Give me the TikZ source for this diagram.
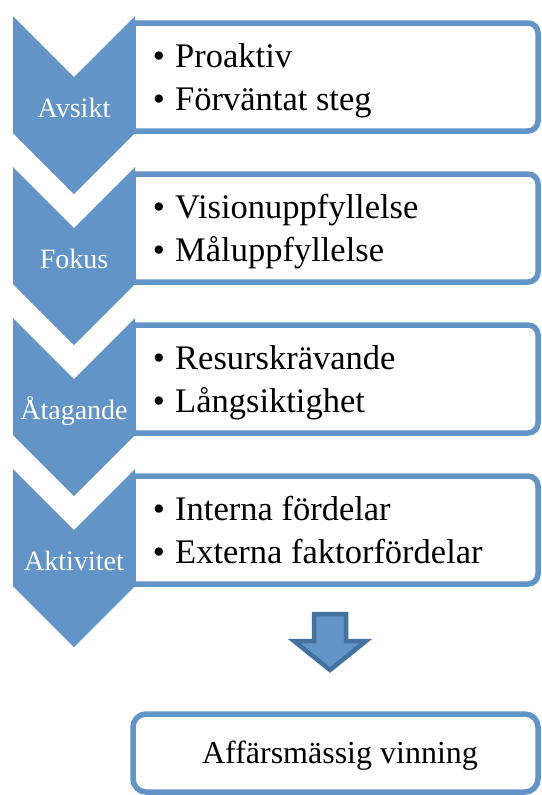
\documentclass[tikz,border=0pt]{standalone}
\usepackage{fontspec}
\setmainfont{Liberation Serif}
\definecolor{chev}{RGB}{99,148,199}
\definecolor{arrowedge}{RGB}{68,114,158}
\tikzset{
  chevshape/.style={fill=chev, draw=none},
  boxshape/.style={draw=chev, line width=5.5pt, fill=white},
  chevlabel/.style={anchor=base, text=white, inner sep=0pt, font=\fontsize{28}{32}\selectfont},
  itemtext/.style={anchor=base west, inner sep=0pt, font=\fontsize{34.5}{40}\selectfont},
  bullettext/.style={anchor=base, inner sep=0pt, font=\fontsize{34.5}{40}\selectfont},
  resulttext/.style={anchor=base, inner sep=0pt, font=\fontsize{32}{38}\selectfont}
}
\begin{document}
\begin{tikzpicture}[x=1pt,y=1pt]
\useasboundingbox (0,0) rectangle (541,-795);
\foreach \i/\lab/\ia/\ib in {0/Avsikt/Proaktiv/Förväntat steg,
                           1/Fokus/Visionuppfyllelse/Måluppfyllelse,
                           2/Åtagande/Resurskrävande/Långsiktighet,
                           3/Aktivitet/Interna fördelar/Externa faktorfördelar}{
  \pgfmathsetmacro{\t}{16+151*\i}
  \pgfmathsetmacro{\bt}{23+151*\i}
  \pgfmathsetmacro{\bb}{131+151*\i}
  % box
  \draw[boxshape] (133,-\bt) -- (528,-\bt)
     arc[start angle=90,end angle=0,radius=10] -- (538,-\bb+10)
     arc[start angle=0,end angle=-90,radius=10] -- (133,-\bb) -- cycle;
  % chevron
  \fill[chevshape] (13,-\t) -- (74,-\t-61) -- (135,-\t) -- (135,-\t-117)
     -- (74,-\t-178) -- (13,-\t-117) -- cycle;
  \node[chevlabel] (lab\i) at (74,-\t-101) {\lab};
  \node[bullettext] (ba\i) at (159,-\t-51) {\textbullet};
  \node[itemtext] (ia\i) at (175,-\t-51) {\ia};
  \node[bullettext] (bb\i) at (159,-\t-94) {\textbullet};
  \node[itemtext] (ib\i) at (175,-\t-94) {\ib};
}
% down arrow
\draw[fill=chev, draw=arrowedge, line width=4.5pt, line join=miter]
  (314,-614) -- (346,-614) -- (346,-641) -- (366,-641) -- (330,-670)
  -- (294,-641) -- (314,-641) -- cycle;
% result box
\draw[boxshape, rounded corners=13pt] (133,-714) rectangle (538,-792);
\node[resulttext] (res) at (340,-763) {Affärsmässig vinning};
\end{tikzpicture}
\end{document}
